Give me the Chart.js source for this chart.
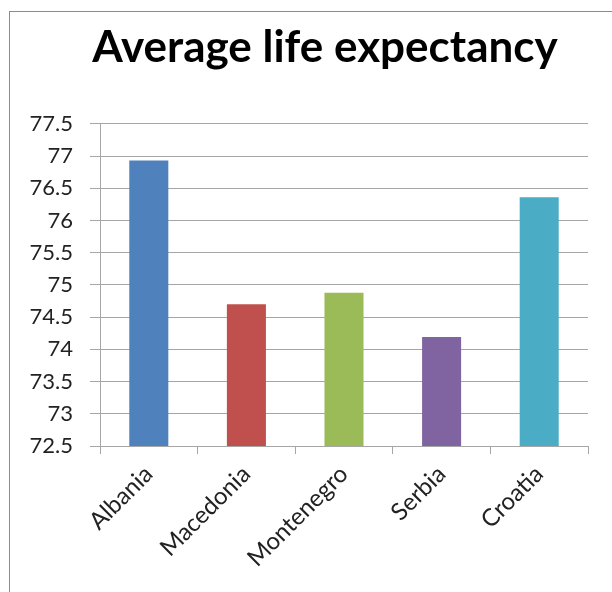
<!DOCTYPE html>
<html>
<head>
<meta charset="utf-8">
<script src="https://cdn.jsdelivr.net/npm/chart.js@4.4.0/dist/chart.umd.min.js"></script>
<style>
  html, body { margin: 0; padding: 0; background: #fff; }
  #wrap { width: 612px; height: 592px; position: relative; }
</style>
</head>
<body>
<div id="wrap"><canvas id="canvas" width="612" height="592"></canvas></div>
<script>
// du lieu bieu do
const countries = ["Albania", "Macedonia", "Montenegro", "Serbia", "Croatia"];
const lifeExpectancy = [76.93, 74.7, 74.88, 74.19, 76.36];
const barColors = ["#4F81BD", "#C0504D", "#9BBB59", "#8064A2", "#4BACC6"];
const yMin = 72.5;
const yMax = 77.5;
const yStep = 0.5;

// khung vien xung quanh bieu do + dich tieu de
const frameBorder = {
  id: "frameBorder",
  afterLayout(chart) {
    const t = chart.titleBlock;
    if (t) {
      t.left = 62;
      t.right = 588;
      t.width = 526;
    }
  },
  beforeDraw(chart) {
    const c = chart.ctx;
    c.save();
    c.fillStyle = "#fff";
    c.fillRect(0, 0, chart.width, chart.height);
    c.strokeStyle = "#8c8c8c";
    c.lineWidth = 1;
    c.strokeRect(9.5, 11.5, chart.width + 10, chart.height + 10);
    c.restore();
  },
};

const ctx = document.getElementById("canvas").getContext("2d");

const myChart = new Chart(ctx, {
  type: "bar",
  data: {
    labels: countries,
    datasets: [
      {
        label: "Average life expectancy",
        data: lifeExpectancy,
        backgroundColor: barColors,
        borderWidth: 0,
        barPercentage: 0.4,
        categoryPercentage: 1,
      },
    ],
  },
  options: {
    responsive: false,
    animation: false,
    layout: {
      padding: { left: 10, right: 24, top: 0, bottom: 0 },
    },
    plugins: {
      legend: { display: false },
      tooltip: { enabled: false },
      title: {
        display: true,
        text: "Average life expectancy",
        color: "#000",
        font: { size: 44, weight: "bold", family: "Lato, sans-serif" },
        padding: { top: 21, bottom: 50 },
      },
    },
    scales: {
      y: {
        min: yMin,
        max: yMax,
        afterFit(scale) {
          scale.width = 90;
        },
        ticks: {
          stepSize: yStep,
          color: "#222",
          padding: 17,
          font: { size: 22, family: "Lato, sans-serif" },
          callback: (v) => String(v),
        },
        grid: {
          color: "#a6a6a6",
          tickLength: 10,
        },
        border: { color: "#a6a6a6" },
      },
      x: {
        afterFit(scale) {
          scale.height = 146;
        },
        ticks: {
          color: "#222",
          minRotation: 45,
          maxRotation: 45,
          padding: 6,
          font: { size: 24, family: "Lato, sans-serif" },
        },
        grid: {
          offset: true,
          drawOnChartArea: false,
          color: "#a6a6a6",
          tickLength: 8,
        },
        border: { color: "#a6a6a6" },
      },
    },
  },
  plugins: [frameBorder],
});
</script>
</body>
</html>
